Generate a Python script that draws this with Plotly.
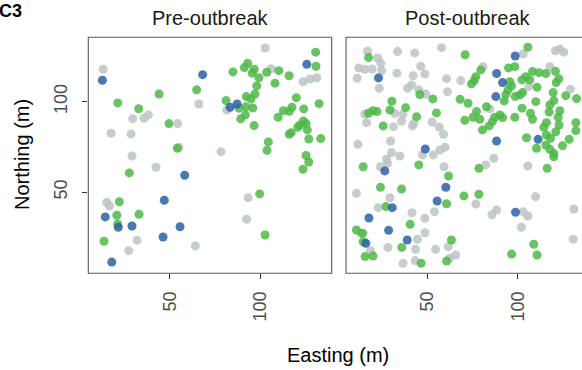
import plotly.graph_objects as go

# ---------------- data (Easting, Northing in metres) ----------------
pre_grey_x = [13.2, 66.2, 29.5, 35.8, 38.2, 54.4, 17.5, 28.6, 55.1, 29.1, 42.4, 15.1, 16.6,
              31.9, 27.3, 64.2, 102.8, 123.8, 127.7, 131.4, 106.1, 81.6, 78.4, 93.4, 92.6]
pre_grey_y = [117.9, 98.7, 90.6, 90.8, 92.7, 87.9, 82.6, 82.2, 74.8, 70.0, 63.8, 44.5, 42.4,
              23.5, 17.8, 20.4, 129.6, 111.0, 112.5, 113.2, 118.2, 95.4, 72.4, 47.0, 35.1]

pre_green_x = [64.9, 44.1, 21.2, 32.8, 49.6, 54.2, 27.6, 22.1, 20.7, 33.0, 21.2, 13.6, 130.8,
               131.0, 93.2, 91.3, 96.8, 85.0, 95.7, 103.7, 110.4, 99.4, 116.1, 108.3, 98.2,
               97.2, 92.4, 95.0, 81.2, 88.4, 92.2, 96.0, 91.9, 89.3, 96.7, 120.1, 132.7, 124.2,
               112.9, 116.2, 117.7, 110.0, 124.0, 122.1, 125.5, 120.9, 126.2, 116.2, 117.3,
               127.0, 133.6, 104.6, 103.9, 125.5, 127.0, 123.8, 99.8, 102.8]
pre_green_y = [106.5, 104.2, 99.3, 96.1, 87.9, 74.3, 60.7, 44.8, 37.3, 37.9, 32.5, 23.0, 127.3,
               119.5, 121.2, 118.8, 117.9, 116.4, 115.7, 116.2, 117.1, 113.2, 114.3, 110.2, 108.7,
               104.2, 102.8, 101.5, 100.6, 96.4, 97.2, 96.5, 92.7, 90.5, 86.8, 102.2, 98.9, 96.0,
               95.0, 94.7, 96.9, 91.4, 89.3, 87.1, 87.9, 85.9, 84.4, 82.0, 82.9,
               79.4, 79.6, 77.8, 73.1, 70.3, 66.7, 62.7, 49.1, 26.4]

pre_blue_x = [12.7, 68.2, 58.3, 47.0, 14.3, 21.5, 29.1, 55.7, 46.3, 17.9, 83.4, 87.3, 125.9]
pre_blue_y = [111.8, 114.9, 59.4, 45.6, 36.4, 30.7, 31.4, 31.0, 25.3, 11.5, 96.9, 98.7, 120.6]

post_grey_x = [57.8, 16.8, 33.4, 43.0, 22.4, 24.2, 12.0, 15.3, 19.4, 24.6, 46.3, 33.1, 48.6,
               42.1, 11.1, 23.3, 60.6, 68.5, 41.2, 39.0, 45.2, 49.1, 61.1, 15.3, 31.9, 36.5,
               52.6, 16.3, 35.7, 42.5, 41.7, 31.2, 56.5, 58.9, 29.6, 11.5, 59.8, 56.9, 47.3,
               30.1, 34.7, 27.4, 103.0, 120.9, 123.3, 125.5, 80.8, 117.8, 106.1, 129.2, 84.6,
               86.8, 53.2, 24.0, 27.9, 59.2, 10.7, 29.2, 22.7, 41.4, 53.9, 48.6, 48.6, 13.0,
               44.5, 28.1, 43.4, 61.5, 54.5, 18.5, 65.7, 62.4, 36.5, 43.2, 82.3, 105.6, 76.8,
               109.9, 88.3, 85.7, 103.0, 105.6, 102.1, 131.1, 130.7]
post_grey_y = [129.8, 127.8, 127.6, 126.9, 124.1, 121.2, 118.6, 117.9, 118.0, 117.1, 119.5, 115.7, 115.3,
               114.3, 112.9, 107.4, 112.7, 111.6, 109.2, 107.4, 106.5, 104.2, 105.5, 93.2, 93.6, 93.0,
               88.8, 88.4, 89.3, 88.1, 86.6, 86.2, 86.0, 82.0, 78.3, 76.5, 74.8, 73.3, 70.6,
               71.9, 70.0, 68.2, 126.3, 128.1, 129.1, 127.3, 119.3, 119.3, 108.3, 106.8, 96.0,
               68.8, 70.6, 64.1, 66.0, 64.1, 49.4, 47.0, 41.5, 38.7, 39.3, 35.7, 27.7, 27.4,
               24.1, 19.6, 18.5, 20.0, 18.5, 17.8, 15.4, 13.6, 10.8, 12.3, 65.1, 64.5, 43.5,
               47.6, 40.2, 37.6, 39.3, 36.9, 30.7, 40.8, 24.1]

post_green_x = [17.4, 70.9, 45.8, 53.0, 68.1, 72.5, 30.3, 29.2, 19.8, 22.1, 17.4, 37.9, 55.0,
                44.0, 25.5, 70.7, 105.6, 79.6, 76.8, 75.9, 74.4, 94.9, 98.4, 108.2, 111.8,
                115.6, 120.9, 122.8, 121.3, 104.5, 102.3, 106.7, 95.6, 96.6, 110.7, 94.7, 93.4,
                102.7, 98.6, 101.2, 119.6, 126.6, 132.6, 92.5, 110.0, 120.0, 117.8, 82.7, 102.4,
                123.3, 117.4, 77.2, 75.3, 79.0, 87.3, 90.1, 91.6, 98.4, 107.1, 108.2, 86.0, 84.2,
                80.5, 122.4, 115.9, 122.9, 114.5, 132.2, 132.2, 121.1, 115.9, 118.2, 104.9, 128.5,
                110.4, 115.6, 124.8, 117.8, 120.0, 120.0, 14.4, 45.2, 61.7, 24.0, 35.7, 70.2,
                60.6, 27.0, 40.4, 10.7, 14.1, 63.3, 14.4, 35.8, 15.5, 19.9, 60.6, 46.5, 78.5,
                116.3, 78.5, 108.9, 96.6, 110.7]
post_green_y = [124.3, 125.9, 103.9, 101.5, 101.3, 99.1, 100.2, 95.4, 95.0, 94.5, 93.6, 96.7, 93.8,
                91.7, 86.6, 89.7, 130.0, 117.5, 113.8, 111.6, 109.8, 118.6, 119.3, 116.6, 116.0,
                115.5, 116.8, 112.7, 110.5, 113.8, 112.0, 112.0, 111.0, 108.7, 107.9, 106.5, 103.9,
                105.0, 102.8, 103.7, 105.0, 103.3, 101.7, 100.4, 100.0, 100.6, 98.2, 97.2, 96.4,
                95.0, 94.3, 94.5, 91.4, 90.3, 91.4, 92.7, 91.2, 91.4, 93.6, 90.3, 89.0, 86.6,
                84.4, 91.4, 88.4, 87.1, 85.9, 88.4, 84.0, 83.4, 81.6, 79.8, 80.1, 79.2,
                74.3, 76.1, 75.6, 73.7, 71.5, 69.6, 64.1, 65.1, 59.0, 52.8, 51.8, 48.0,
                43.7, 42.1, 32.3, 29.2, 27.4, 23.7, 22.7, 19.6, 14.5, 14.8, 12.1, 10.8, 63.2,
                63.2, 48.9, 21.3, 15.9, 15.4]

post_blue_x = [22.9, 48.8, 98.6, 88.3, 91.6, 87.9, 88.3, 111.3, 26.4, 60.2, 55.4, 30.5, 17.6,
               28.5, 38.8, 15.9, 98.8]
post_blue_y = [113.1, 73.9, 125.2, 115.5, 110.5, 102.8, 78.3, 79.2, 61.8, 52.8, 45.2, 41.5, 35.8,
               29.0, 23.7, 21.9, 39.0]

facet_titles = ["Pre-outbreak", "Post-outbreak"]
x_ticks = [50, 100]
y_ticks = [50, 100]

# ---------------- styling ----------------
GREY = "#BDC3C3"
GREEN = "#4DB847"
BLUE = "#2A62A5"
FONT = "Liberation Sans, Arial, sans-serif"
W, H = 582, 370

P1_L, P1_R = 88.3, 331.7
P2_L, P2_R = 346.0, 589.4
P_T, P_B = 37.3, 273.3
X_RANGE = [4.9, 139.7]
Y_RANGE = [5.3, 135.5]
x2_max = X_RANGE[0] + (W - P2_L) / (P2_R - P2_L) * (X_RANGE[1] - X_RANGE[0])

fig = go.Figure()

def add_pts(xs, ys, color, xa, ya):
    fig.add_trace(go.Scatter(x=xs, y=ys, mode="markers", xaxis=xa, yaxis=ya,
                             marker=dict(size=9, color=color, opacity=0.85, line=dict(width=0)),
                             showlegend=False, hoverinfo="skip"))

add_pts(pre_grey_x, pre_grey_y, GREY, "x", "y")
add_pts(pre_green_x, pre_green_y, GREEN, "x", "y")
add_pts(pre_blue_x, pre_blue_y, BLUE, "x", "y")
add_pts(post_grey_x, post_grey_y, GREY, "x2", "y2")
add_pts(post_green_x, post_green_y, GREEN, "x2", "y2")
add_pts(post_blue_x, post_blue_y, BLUE, "x2", "y2")

tickfont = dict(family=FONT, size=18, color="#4d4d4d")
common_x = dict(showgrid=False, zeroline=False, showline=False, ticks="outside", ticklen=5,
                tickwidth=1.1, tickcolor="#333333", tickvals=x_ticks, ticktext=[str(v) for v in x_ticks],
                tickangle=-90, tickfont=tickfont, ticklabelstandoff=5)

fig.update_layout(
    width=W, height=H, margin=dict(l=0, r=0, t=0, b=0),
    paper_bgcolor="white", plot_bgcolor="white",
    xaxis=dict(domain=[P1_L / W, P1_R / W], range=X_RANGE, anchor="y", **common_x),
    xaxis2=dict(domain=[P2_L / W, 1.0], range=[X_RANGE[0], x2_max], anchor="y2", **common_x),
    yaxis=dict(domain=[1 - P_B / H, 1 - P_T / H], range=Y_RANGE, anchor="x", showgrid=False,
               zeroline=False, showline=False, ticks="outside", ticklen=5, tickwidth=1.1,
               tickcolor="#333333", tickvals=y_ticks, ticktext=[str(v) for v in y_ticks],
               tickangle=-90, tickfont=tickfont, ticklabelstandoff=8),
    yaxis2=dict(domain=[1 - P_B / H, 1 - P_T / H], range=Y_RANGE, anchor="x2", showgrid=False,
                zeroline=False, showline=False, showticklabels=False, ticks=""),
)

# panel borders
for l, r in [(P1_L, P1_R), (P2_L, P2_R)]:
    fig.add_shape(type="rect", xref="paper", yref="paper",
                  x0=l / W, x1=r / W, y0=1 - P_B / H, y1=1 - P_T / H,
                  line=dict(color="#595959", width=1.1), fillcolor="rgba(0,0,0,0)", layer="above")

# facet strip titles
for title, (l, r) in zip(facet_titles, [(P1_L, P1_R), (P2_L, P2_R)]):
    fig.add_annotation(text=title, xref="paper", yref="paper", x=(l + r) / 2 / W, y=1 - 18 / H,
                       showarrow=False, xanchor="center", yanchor="middle",
                       font=dict(family=FONT, size=20, color="#1a1a1a"))

# axis titles
fig.add_annotation(text="Easting (m)", xref="paper", yref="paper", x=338 / W, y=1 - 355 / H,
                   showarrow=False, xanchor="center", yanchor="middle",
                   font=dict(family=FONT, size=20, color="black"))
fig.add_annotation(text="Northing (m)", xref="paper", yref="paper", x=22 / W, y=1 - 155 / H,
                   showarrow=False, xanchor="center", yanchor="middle", textangle=-90,
                   font=dict(family=FONT, size=20, color="black"))
# panel tag
fig.add_annotation(text="<b>C3</b>", xref="paper", yref="paper", x=-2 / W, y=1.0,
                   showarrow=False, xanchor="left", yanchor="top", borderpad=0,
                   font=dict(family=FONT, size=18, color="black"))

fig.write_html("out.html")
